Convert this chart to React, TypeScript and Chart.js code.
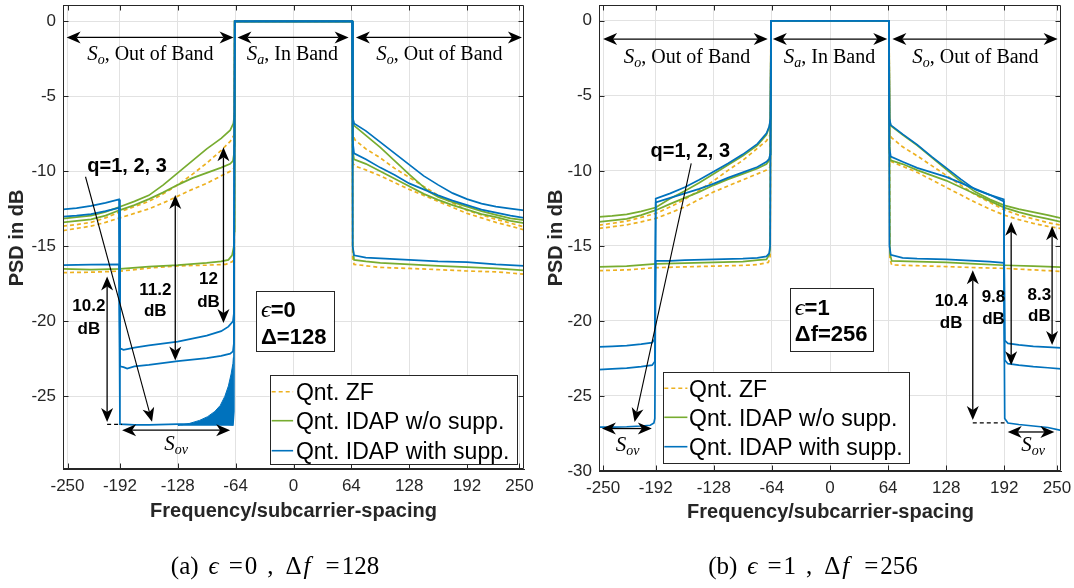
import React, { useEffect, useRef } from 'react';
import { Chart, registerables } from 'chart.js';

Chart.register(...registerables);

type Pt = [number, number];

// ---------- axis ticks ----------
const X_TICKS = [-250, -192, -128, -64, 0, 64, 128, 192, 250];
const Y_TICKS_A = [-25, -20, -15, -10, -5, 0];
const Y_TICKS_B = [-30, -25, -20, -15, -10, -5, 0];

// ---------- panel (a): eps = 0, Δf = 128 ----------
const A_ZF_1: Pt[] = [[-255,-13.65],[-240,-13.55],[-224,-13.4],[-208,-13.1],[-192,-12.7],[-176,-12.35],[-160,-12.0],[-144,-11.5],[-128,-10.9],[-112,-10.2],[-96,-9.45],[-80,-8.6],[-70,-8.0],[-66,-7.6],[-65,0],[65,0],[66,-7.6],[68,-7.9],[80,-8.5],[96,-9.1],[112,-9.8],[128,-10.4],[144,-11.0],[160,-11.6],[176,-12.1],[192,-12.6],[208,-12.9],[224,-13.2],[240,-13.45],[255,-13.7]];
const A_ZF_2: Pt[] = [[-255,-13.95],[-224,-13.65],[-208,-13.4],[-192,-13.1],[-176,-12.8],[-160,-12.5],[-144,-12.1],[-128,-11.65],[-112,-11.2],[-96,-10.8],[-80,-10.3],[-70,-10.0],[-66,-9.8],[-65,0],[65,0],[66,-9.5],[68,-9.65],[80,-9.9],[96,-10.3],[112,-10.75],[128,-11.2],[144,-11.6],[160,-12.0],[176,-12.4],[192,-12.8],[208,-13.1],[224,-13.4],[240,-13.65],[255,-13.9]];
const A_ZF_3: Pt[] = [[-255,-16.75],[-224,-16.72],[-192,-16.65],[-160,-16.45],[-128,-16.3],[-96,-16.25],[-75,-16.2],[-67,-16.0],[-65.5,-15.5],[-65,0],[65,0],[65.5,-15.8],[67,-16.2],[96,-16.4],[128,-16.47],[160,-16.55],[192,-16.64],[224,-16.7],[255,-16.85]];
const A_NS_1: Pt[] = [[-255,-13.15],[-240,-13.05],[-224,-12.95],[-208,-12.7],[-192,-12.36],[-176,-12.0],[-160,-11.6],[-144,-10.9],[-128,-10.1],[-112,-9.3],[-96,-8.5],[-80,-7.8],[-70,-7.25],[-66.5,-6.8],[-65.5,-6.3],[-65,0],[65,0],[65.5,-6.4],[67,-6.95],[80,-7.6],[96,-8.4],[112,-9.3],[128,-10.2],[150,-11.36],[160,-11.7],[176,-12.05],[192,-12.35],[208,-12.65],[224,-12.9],[240,-13.13],[255,-13.25]];
const A_NS_2: Pt[] = [[-255,-13.4],[-224,-13.2],[-208,-12.95],[-192,-12.58],[-176,-12.25],[-160,-11.85],[-144,-11.4],[-128,-10.9],[-112,-10.45],[-96,-10.1],[-80,-9.75],[-70,-9.5],[-67,-9.3],[-66,-8.9],[-65.5,-8.3],[-65,0],[65,0],[65.5,-8.6],[67,-9.2],[80,-9.5],[96,-10.0],[112,-10.5],[128,-11.0],[144,-11.5],[160,-11.9],[176,-12.25],[192,-12.55],[208,-12.85],[224,-13.05],[240,-13.3],[255,-13.45]];
const A_NS_3: Pt[] = [[-255,-16.5],[-224,-16.55],[-192,-16.5],[-160,-16.35],[-128,-16.25],[-96,-16.1],[-80,-16.0],[-72,-15.9],[-68,-15.6],[-66,-15.0],[-65.5,-14.0],[-65,0],[65,0],[65.5,-15.0],[67,-15.9],[80,-16.0],[96,-16.1],[128,-16.2],[160,-16.3],[192,-16.38],[224,-16.47],[255,-16.6]];
const A_WS_1: Pt[] = [[-255,-12.53],[-240,-12.45],[-224,-12.3],[-208,-12.1],[-193,-11.87],[-192,-21.8],[-188,-21.9],[-176,-21.75],[-160,-21.6],[-128,-21.35],[-112,-21.15],[-96,-20.95],[-80,-20.65],[-72,-20.35],[-67,-20.0],[-66,-19.5],[-65,0],[65,0],[65.5,-6.4],[67,-6.8],[80,-7.3],[96,-8.05],[112,-8.8],[128,-9.55],[144,-10.3],[160,-10.9],[176,-11.45],[192,-11.85],[208,-12.15],[224,-12.35],[240,-12.48],[255,-12.6]];
const A_WS_2: Pt[] = [[-255,-13.02],[-240,-12.95],[-224,-12.85],[-208,-12.65],[-193,-12.43],[-192,-23.0],[-188,-23.05],[-184,-23.15],[-176,-23.0],[-160,-22.9],[-128,-22.65],[-96,-22.45],[-80,-22.3],[-70,-22.15],[-67,-22.0],[-66,-21.5],[-65,0],[65,0],[65.5,-8.0],[67,-8.8],[80,-9.2],[96,-9.75],[112,-10.25],[128,-10.8],[144,-11.2],[160,-11.6],[176,-11.95],[192,-12.25],[208,-12.55],[224,-12.75],[240,-12.95],[255,-13.1]];
const A_WS_3: Pt[] = [[-255,-16.25],[-224,-16.22],[-193,-16.2],[-192,-26.85],[-176,-26.9],[-160,-26.9],[-128,-26.85],[-110,-26.85],[-96,-26.8],[-80,-26.8],[-67,-26.9],[-66,-26.0],[-65,0],[65,0],[65.5,-15.0],[67,-15.6],[80,-15.75],[96,-15.8],[128,-15.9],[160,-16.0],[192,-16.05],[224,-16.2],[255,-16.3]];
// upper edge of the dense oscillation of the q=3 suppressed curve
const A_WS_3_NOISE: Pt[] = [[-128,-26.95],[-115,-26.8],[-104,-26.6],[-95,-26.35],[-87,-26.0],[-81,-25.6],[-76,-25.0],[-72,-24.3],[-69,-23.5],[-67,-22.8],[-66.5,-22.4]];

// ---------- panel (b): eps = 1, Δf = 256 ----------
const B_ZF_1: Pt[] = [[-254.5,-13.62],[-240,-13.5],[-224,-13.35],[-208,-13.1],[-192,-12.84],[-176,-12.4],[-160,-11.9],[-144,-11.3],[-128,-10.65],[-112,-9.95],[-96,-9.3],[-80,-8.5],[-70,-8.0],[-66,-7.6],[-65,0],[65,0],[66,-7.6],[68,-7.8],[80,-8.4],[96,-9.0],[112,-9.65],[128,-10.3],[144,-10.95],[160,-11.6],[176,-12.1],[192,-12.6],[208,-12.95],[224,-13.2],[240,-13.45],[254.5,-13.62]];
const B_ZF_2: Pt[] = [[-254.5,-13.84],[-224,-13.6],[-208,-13.4],[-192,-13.17],[-176,-12.8],[-160,-12.4],[-144,-11.9],[-128,-11.4],[-112,-11.0],[-96,-10.6],[-80,-10.2],[-70,-9.95],[-66,-9.75],[-65,0],[65,0],[66,-9.3],[68,-9.4],[80,-9.7],[96,-10.1],[112,-10.6],[128,-11.1],[144,-11.6],[160,-12.1],[176,-12.55],[192,-12.95],[208,-13.25],[224,-13.5],[240,-13.7],[254.5,-13.85]];
const B_ZF_3: Pt[] = [[-254.5,-16.65],[-224,-16.6],[-192,-16.45],[-160,-16.4],[-128,-16.35],[-96,-16.3],[-80,-16.25],[-68,-16.1],[-66,-15.8],[-65,0],[65,0],[66,-15.9],[68,-16.27],[96,-16.32],[128,-16.38],[160,-16.45],[192,-16.5],[224,-16.6],[254.5,-16.7]];
const B_NS_1: Pt[] = [[-254.5,-13.07],[-240,-13.0],[-224,-12.9],[-208,-12.7],[-192,-12.44],[-176,-11.85],[-160,-11.35],[-144,-10.8],[-128,-10.2],[-112,-9.6],[-96,-9.0],[-80,-8.3],[-70,-7.6],[-67,-7.1],[-65.5,-6.6],[-65,0],[65,0],[65.5,-6.6],[67,-7.0],[80,-7.6],[96,-8.3],[112,-9.1],[128,-9.9],[144,-10.7],[160,-11.4],[176,-11.9],[192,-12.3],[208,-12.55],[224,-12.75],[240,-12.95],[254.5,-13.15]];
const B_NS_2: Pt[] = [[-254.5,-13.4],[-224,-13.2],[-208,-12.95],[-192,-12.62],[-176,-12.2],[-160,-11.8],[-144,-11.4],[-128,-10.95],[-112,-10.55],[-96,-10.2],[-80,-9.85],[-70,-9.55],[-67,-9.3],[-66,-8.9],[-65.5,-8.5],[-65,0],[65,0],[65.5,-8.8],[67,-9.3],[80,-9.55],[96,-9.95],[112,-10.3],[128,-10.65],[144,-11.1],[160,-11.55],[176,-12.0],[192,-12.45],[208,-12.75],[224,-13.0],[240,-13.2],[254.5,-13.4]];
const B_NS_3: Pt[] = [[-254.5,-16.4],[-224,-16.35],[-192,-16.2],[-160,-16.15],[-128,-16.1],[-96,-16.05],[-80,-15.95],[-70,-15.9],[-67,-15.6],[-66,-15.2],[-65,0],[65,0],[66,-15.5],[68,-16.0],[96,-16.05],[128,-16.1],[160,-16.2],[192,-16.29],[224,-16.35],[254.5,-16.42]];
const B_WS_1: Pt[] = [[-254.5,-21.73],[-240,-21.7],[-224,-21.65],[-208,-21.55],[-196,-21.45],[-193,-21.2],[-192,-11.85],[-176,-11.5],[-160,-11.1],[-144,-10.6],[-128,-10.05],[-112,-9.5],[-96,-8.9],[-80,-8.2],[-70,-7.5],[-67,-7.05],[-65.5,-6.5],[-65,0],[65,0],[65.5,-6.5],[67,-6.95],[80,-7.55],[96,-8.25],[112,-9.05],[128,-9.8],[144,-10.55],[160,-11.25],[176,-11.6],[191.5,-11.9],[192.5,-21.3],[196,-21.5],[208,-21.6],[224,-21.7],[240,-21.75],[254.5,-21.8]];
const B_WS_2: Pt[] = [[-254.5,-23.24],[-240,-23.2],[-224,-23.15],[-208,-23.05],[-196,-22.95],[-193,-22.7],[-192,-12.1],[-176,-11.8],[-160,-11.5],[-144,-11.2],[-128,-10.85],[-112,-10.45],[-96,-10.1],[-80,-9.75],[-70,-9.4],[-67,-9.2],[-66,-8.9],[-65.5,-8.4],[-65,0],[65,0],[65.5,-8.5],[67,-9.05],[80,-9.4],[96,-9.8],[112,-10.1],[128,-10.4],[144,-10.8],[160,-11.2],[176,-11.6],[191.5,-12.05],[192.5,-22.6],[196,-22.85],[208,-22.95],[224,-23.05],[240,-23.12],[254.5,-23.2]];
const B_WS_3: Pt[] = [[-254.5,-27.07],[-240,-27.07],[-224,-27.05],[-208,-27.0],[-198,-26.95],[-194,-26.8],[-193,-26.5],[-192,-16.0],[-176,-16.0],[-160,-15.95],[-128,-15.9],[-96,-15.85],[-80,-15.8],[-70,-15.7],[-67,-15.5],[-66,-15.0],[-65,0],[65,0],[65.5,-15.0],[67,-15.6],[80,-15.8],[96,-15.85],[128,-15.9],[160,-16.0],[176,-16.05],[191.5,-16.13],[192.5,-26.5],[196,-26.8],[208,-26.9],[224,-27.0],[240,-27.1],[254.5,-27.3]];

const LEGEND_LABELS = ['Qnt. ZF', 'Qnt. IDAP w/o supp.', 'Qnt. IDAP with supp.'];

// ---------- style ----------
const SANS = "'Liberation Sans', Arial, Helvetica, sans-serif";
const SERIF = "'Liberation Serif', 'Times New Roman', 'DejaVu Serif', serif";
const AX = '#262626';
const GRID = '#e2e2e2';
const C_ZF = '#EDB120';
const C_NS = '#77AC30';
const C_WS = '#0072BD';

type Piece = { s: string; f: string; dy?: number; gap?: number };

function richWidth(ctx: CanvasRenderingContext2D, pieces: Piece[]) {
  let w = 0;
  for (const p of pieces) {
    ctx.font = p.f;
    w += ctx.measureText(p.s).width + (p.gap || 0);
  }
  return w;
}
function drawRich(ctx: CanvasRenderingContext2D, pieces: Piece[], x: number, base: number, align: 'center' | 'left') {
  const w = richWidth(ctx, pieces);
  let cx = align === 'center' ? x - w / 2 : x;
  ctx.textAlign = 'left';
  ctx.textBaseline = 'alphabetic';
  for (const p of pieces) {
    cx += p.gap || 0;
    ctx.font = p.f;
    ctx.fillText(p.s, cx, base + (p.dy || 0));
    cx += ctx.measureText(p.s).width;
  }
}

function arrowHead(ctx: CanvasRenderingContext2D, tx: number, ty: number, ux: number, uy: number, L = 14, W = 6, back = 4) {
  const nx = -uy, ny = ux;
  ctx.beginPath();
  ctx.moveTo(tx, ty);
  ctx.lineTo(tx - ux * L + nx * W, ty - uy * L + ny * W);
  ctx.lineTo(tx - ux * (L - back), ty - uy * (L - back));
  ctx.lineTo(tx - ux * L - nx * W, ty - uy * L - ny * W);
  ctx.closePath();
  ctx.fill();
}
function arrow(ctx: CanvasRenderingContext2D, x1: number, y1: number, x2: number, y2: number, both: boolean, lw = 1.3) {
  const dx = x2 - x1, dy = y2 - y1;
  const len = Math.hypot(dx, dy);
  const ux = dx / len, uy = dy / len;
  const inset = 10;
  const sx = both ? x1 + ux * inset : x1, sy = both ? y1 + uy * inset : y1;
  ctx.lineWidth = lw;
  ctx.beginPath();
  ctx.moveTo(sx, sy);
  ctx.lineTo(x2 - ux * inset, y2 - uy * inset);
  ctx.stroke();
  arrowHead(ctx, x2, y2, ux, uy);
  if (both) arrowHead(ctx, x1, y1, -ux, -uy);
}

type Ann =
  | { t: 'arrow2'; x1: number; y1: number; x2: number; y2: number }
  | { t: 'arrow1'; x1: number; y1: number; x2: number; y2: number }
  | { t: 'dash'; x1: number; y1: number; x2: number; y2: number }
  | { t: 'bold'; x: number; y: number; s: string; size: number }
  | { t: 'set'; x: number; y: number; sub: string; rest: string };

type Panel = {
  series: { zf: Pt[][]; ns: Pt[][]; ws: Pt[][]; noise?: Pt[] };
  xMin: number; xMax: number; yMin: number; yMax: number; yTicks: number[];
  width: number; left: number; padRight: number; yAxisW: number; xAxisH: number;
  ann: Ann[];
  box: { x1: number; x2: number; y1: number; y2: number; tx: number; l1: [string, string]; l2: string; y1t: number; y2t: number };
  legend: { x1: number; y1: number; x2: number; y2: number; rows: number[]; s1: number; s2: number; tx: number };
  yTitle: [number, number]; xTitle: [number, number];
  caption: { x: number; y: number; tag: string; eps: string; df: string };
};

const PANEL_A: Panel = {
  series: { zf: [A_ZF_1, A_ZF_2, A_ZF_3], ns: [A_NS_1, A_NS_2, A_NS_3], ws: [A_WS_1, A_WS_2, A_WS_3], noise: A_WS_3_NOISE },
  xMin: -255, xMax: 255, yMin: -29.84, yMax: 1.09, yTicks: Y_TICKS_A,
  width: 540, left: 0, padRight: 16, yAxisW: 63, xAxisH: 119,
  ann: [
    { t: 'arrow2', x1: -251, y1: -1.07, x2: -66.3, y2: -1.07 },
    { t: 'arrow2', x1: -62, y1: -1.07, x2: 61, y2: -1.07 },
    { t: 'arrow2', x1: 69, y1: -1.07, x2: 252.7, y2: -1.07 },
    { t: 'set', x: -158.4, y: -2.1, sub: 'o', rest: ', Out of Band' },
    { t: 'set', x: -1.2, y: -2.1, sub: 'a', rest: ', In Band' },
    { t: 'set', x: 161.4, y: -2.1, sub: 'o', rest: ', Out of Band' },
    { t: 'bold', x: -184.1, y: -9.53, s: 'q=1, 2, 3', size: 20 },
    { t: 'arrow1', x1: -230.1, y1: -10.36, x2: -156.5, y2: -26.69 },
    { t: 'arrow2', x1: -206.2, y1: -17.0, x2: -206.2, y2: -26.7 },
    { t: 'dash', x1: -206.2, y1: -26.87, x2: -189.6, y2: -26.87 },
    { t: 'bold', x: -226.4, y: -18.9, s: '10.2', size: 17 },
    { t: 'bold', x: -226.4, y: -20.4, s: 'dB', size: 17 },
    { t: 'arrow2', x1: -130.8, y1: -11.58, x2: -130.8, y2: -22.6 },
    { t: 'bold', x: -152.9, y: -17.8, s: '11.2', size: 17 },
    { t: 'bold', x: -152.9, y: -19.2, s: 'dB', size: 17 },
    { t: 'arrow2', x1: -77.5, y1: -8.4, x2: -77.5, y2: -20.1 },
    { t: 'bold', x: -94, y: -17.1, s: '12', size: 17 },
    { t: 'bold', x: -94, y: -18.6, s: 'dB', size: 17 },
    { t: 'arrow2', x1: -189.6, y1: -27.25, x2: -70.1, y2: -27.25 },
    { t: 'set', x: -129.8, y: -28.1, sub: 'ov', rest: '' },
  ],
  box: { x1: -41.5, x2: 44.5, y1: -18.0, y2: -22.0, tx: -35.9, l1: ['ϵ', '=0'], l2: 'Δ=128', y1t: -19.2, y2t: -21.0 },
  legend: { x1: 269.7, y1: 375, x2: 516.6, y2: 464.3, rows: [391.7, 420.7, 450.7], s1: 271.7, s2: 293.1, tx: 295.9 },
  yTitle: [17, 238], xTitle: [293.5, 511.7],
  caption: { x: 275, y: 566, tag: '(a)', eps: '0', df: '128' },
};

const PANEL_B: Panel = {
  series: { zf: [B_ZF_1, B_ZF_2, B_ZF_3], ns: [B_NS_1, B_NS_2, B_NS_3], ws: [B_WS_1, B_WS_2, B_WS_3] },
  xMin: -254.5, xMax: 254.5, yMin: -30, yMax: 1.05, yTicks: Y_TICKS_B,
  width: 534, left: 540, padRight: 13, yAxisW: 59, xAxisH: 117,
  ann: [
    { t: 'arrow2', x1: -250, y1: -1.22, x2: -68.6, y2: -1.22 },
    { t: 'arrow2', x1: -63, y1: -1.22, x2: 63.1, y2: -1.22 },
    { t: 'arrow2', x1: 68.7, y1: -1.22, x2: 250.8, y2: -1.22 },
    { t: 'set', x: -157.6, y: -2.35, sub: 'o', rest: ', Out of Band' },
    { t: 'set', x: -0.5, y: -2.35, sub: 'a', rest: ', In Band' },
    { t: 'set', x: 160.2, y: -2.35, sub: 'o', rest: ', Out of Band' },
    { t: 'bold', x: -153.9, y: -8.6, s: 'q=1, 2, 3', size: 20 },
    { t: 'arrow1', x1: -152.9, y1: -9.51, x2: -215.3, y2: -26.73 },
    { t: 'arrow2', x1: -251.3, y1: -27.17, x2: -196.3, y2: -27.17 },
    { t: 'set', x: -223, y: -28.2, sub: 'ov', rest: '' },
    { t: 'arrow2', x1: 195.8, y1: -27.4, x2: 247.2, y2: -27.4 },
    { t: 'set', x: 223.9, y: -28.2, sub: 'ov', rest: '' },
    { t: 'arrow2', x1: 157.3, y1: -16.62, x2: 157.3, y2: -26.6 },
    { t: 'dash', x1: 157.3, y1: -26.8, x2: 192.2, y2: -26.8 },
    { t: 'bold', x: 133.5, y: -18.62, s: '10.4', size: 17 },
    { t: 'bold', x: 133.5, y: -20.07, s: 'dB', size: 17 },
    { t: 'arrow2', x1: 199.6, y1: -13.4, x2: 199.6, y2: -22.95 },
    { t: 'bold', x: 180.1, y: -18.3, s: '9.8', size: 17 },
    { t: 'bold', x: 180.1, y: -19.8, s: 'dB', size: 17 },
    { t: 'arrow2', x1: 244.7, y1: -13.7, x2: 244.7, y2: -21.6 },
    { t: 'bold', x: 230.7, y: -18.2, s: '8.3', size: 17 },
    { t: 'bold', x: 230.7, y: -19.6, s: 'dB', size: 17 },
  ],
  box: { x1: -44.6, x2: 46.9, y1: -17.8, y2: -22.0, tx: -38.7, l1: ['ϵ', '=1'], l2: 'Δf=256', y1t: -19.07, y2t: -20.8 },
  legend: { x1: 122.6, y1: 371.7, x2: 368.8, y2: 462.7, rows: [388.3, 417.3, 446.7], s1: 124.3, s2: 147.4, tx: 149.1 },
  yTitle: [16.7, 238], xTitle: [290.5, 512.3],
  caption: { x: 273, y: 566, tag: '(b)', eps: '1', df: '256' },
};

function lineDs(pts: Pt[], color: string, dashed: boolean, order: number) {
  return {
    data: pts.map(([x, y]) => ({ x, y })),
    borderColor: color,
    backgroundColor: color,
    borderWidth: 1.7,
    borderDash: dashed ? [4, 3] : [],
    pointRadius: 0,
    fill: false,
    tension: 0,
    order,
  };
}

function makePlugin(P: Panel) {
  return {
    id: 'decor',
    afterDraw(chart: any) {
      const ctx: CanvasRenderingContext2D = chart.ctx;
      const xs = chart.scales.x, ys = chart.scales.y;
      const X = (v: number) => xs.getPixelForValue(v);
      const Y = (v: number) => ys.getPixelForValue(v);
      const a = chart.chartArea;
      ctx.save();
      // box border + inward ticks
      ctx.strokeStyle = AX;
      ctx.lineWidth = 1;
      const L = Math.round(a.left) + 0.5, R = Math.round(a.right) - 0.5;
      const T = Math.round(a.top) + 0.5, B = Math.round(a.bottom) - 0.5;
      ctx.beginPath();
      ctx.moveTo(L, T); ctx.lineTo(R, T); ctx.lineTo(R, B); ctx.lineTo(L, B); ctx.closePath();
      for (const v of X_TICKS) {
        const px = Math.round(X(v)) + 0.5;
        ctx.moveTo(px, B); ctx.lineTo(px, B - 5);
        ctx.moveTo(px, T); ctx.lineTo(px, T + 5);
      }
      for (const v of P.yTicks) {
        const py = Math.round(Y(v)) + 0.5;
        ctx.moveTo(L, py); ctx.lineTo(L + 5, py);
        ctx.moveTo(R, py); ctx.lineTo(R - 5, py);
      }
      ctx.stroke();

      // annotations
      ctx.fillStyle = '#000';
      ctx.strokeStyle = '#000';
      for (const an of P.ann) {
        if (an.t === 'arrow2' || an.t === 'arrow1') {
          arrow(ctx, X(an.x1), Y(an.y1), X(an.x2), Y(an.y2), an.t === 'arrow2', an.t === 'arrow1' ? 1.1 : 1.3);
        } else if (an.t === 'dash') {
          ctx.save();
          ctx.setLineDash([4, 3]);
          ctx.lineWidth = 1.2;
          ctx.beginPath();
          ctx.moveTo(X(an.x1), Y(an.y1));
          ctx.lineTo(X(an.x2), Y(an.y2));
          ctx.stroke();
          ctx.restore();
        } else if (an.t === 'bold') {
          drawRich(ctx, [{ s: an.s, f: `bold ${an.size}px ${SANS}` }], X(an.x), Y(an.y) + an.size * 0.36, 'center');
        } else if (an.t === 'set') {
          const pieces: Piece[] = [
            { s: 'S', f: `italic 21px ${SERIF}` },
            { s: an.sub, f: `italic 14px ${SERIF}`, dy: 4 },
          ];
          if (an.rest) pieces.push({ s: an.rest, f: `20px ${SERIF}` });
          drawRich(ctx, pieces, X(an.x), Y(an.y) + 7, 'center');
        }
      }

      // parameter box
      const bx = P.box;
      const bx1 = X(bx.x1), bx2 = X(bx.x2), by1 = Y(bx.y1), by2 = Y(bx.y2);
      ctx.fillStyle = '#fff';
      ctx.fillRect(bx1, by1, bx2 - bx1, by2 - by1);
      ctx.strokeStyle = AX;
      ctx.lineWidth = 1;
      ctx.strokeRect(Math.round(bx1) + 0.5, Math.round(by1) + 0.5, Math.round(bx2 - bx1), Math.round(by2 - by1));
      ctx.fillStyle = '#000';
      drawRich(ctx, [
        { s: bx.l1[0], f: `italic 24px ${SERIF}` },
        { s: bx.l1[1], f: `bold 22px ${SANS}` },
      ], X(bx.tx), Y(bx.y1t) + 8, 'left');
      drawRich(ctx, [{ s: bx.l2, f: `bold 22px ${SANS}` }], X(bx.tx), Y(bx.y2t) + 8, 'left');

      // legend
      const lg = P.legend;
      ctx.fillStyle = '#fff';
      ctx.fillRect(lg.x1, lg.y1, lg.x2 - lg.x1, lg.y2 - lg.y1);
      ctx.strokeStyle = AX;
      ctx.lineWidth = 1;
      ctx.strokeRect(Math.round(lg.x1) + 0.5, Math.round(lg.y1) + 0.5, Math.round(lg.x2 - lg.x1), Math.round(lg.y2 - lg.y1));
      const cols = [C_ZF, C_NS, C_WS];
      LEGEND_LABELS.forEach((lab, i) => {
        const ry = lg.rows[i];
        ctx.save();
        ctx.strokeStyle = cols[i];
        ctx.lineWidth = 1.6;
        if (i === 0) ctx.setLineDash([4, 3]);
        ctx.beginPath();
        ctx.moveTo(lg.s1, ry);
        ctx.lineTo(lg.s2, ry);
        ctx.stroke();
        ctx.restore();
        ctx.fillStyle = '#000';
        drawRich(ctx, [{ s: lab, f: `23px ${SANS}` }], lg.tx, ry + 8.3, 'left');
      });

      // axis titles
      ctx.fillStyle = AX;
      ctx.font = `bold 20px ${SANS}`;
      ctx.textAlign = 'center';
      ctx.textBaseline = 'middle';
      ctx.fillText('Frequency/subcarrier-spacing', P.xTitle[0], P.xTitle[1]);
      ctx.save();
      ctx.translate(P.yTitle[0], P.yTitle[1]);
      ctx.rotate(-Math.PI / 2);
      ctx.fillText('PSD in dB', 0, 0);
      ctx.restore();

      // caption
      ctx.fillStyle = '#000';
      const cf = `25px ${SERIF}`, ci = `italic 25px ${SERIF}`;
      drawRich(ctx, [
        { s: P.caption.tag, f: cf },
        { s: 'ϵ', f: ci, gap: 10 },
        { s: '=', f: cf, gap: 10 },
        { s: P.caption.eps, f: cf, gap: 2 },
        { s: ',', f: cf, gap: 10 },
        { s: 'Δ', f: cf, gap: 12 },
        { s: 'f', f: ci, gap: 2 },
        { s: '=', f: cf, gap: 15 },
        { s: P.caption.df, f: cf, gap: 2 },
      ], P.caption.x, P.caption.y + 8, 'center');
      ctx.restore();
    },
  };
}

function PanelChart({ P }: { P: Panel }) {
  const ref = useRef<HTMLCanvasElement | null>(null);
  useEffect(() => {
    if (!ref.current) return;
    const datasets: any[] = [];
    P.series.ws.forEach((s) => datasets.push(lineDs(s, C_WS, false, 1)));
    if (P.series.noise) {
      datasets.push({
        ...lineDs(P.series.noise, C_WS, false, 2),
        borderWidth: 1,
        fill: { value: -26.95 },
        backgroundColor: C_WS,
      });
    }
    P.series.ns.forEach((s) => datasets.push(lineDs(s, C_NS, false, 3)));
    P.series.zf.forEach((s) => datasets.push(lineDs(s, C_ZF, true, 4)));

    const chart = new Chart(ref.current, {
      type: 'line',
      data: { datasets },
      options: {
        responsive: false,
        animation: false,
        devicePixelRatio: 1,
        events: [],
        layout: { padding: { left: 0, right: P.padRight, top: 5, bottom: 0 } },
        plugins: { legend: { display: false }, tooltip: { enabled: false } },
        scales: {
          x: {
            type: 'linear',
            min: P.xMin,
            max: P.xMax,
            afterBuildTicks: (s: any) => { s.ticks = X_TICKS.map((v) => ({ value: v })); },
            afterFit: (s: any) => {
              s.height = P.xAxisH;
              s.paddingLeft = 0; s.paddingRight = 0; s.paddingTop = 0; s.paddingBottom = 0;
            },
            grid: { color: GRID, drawTicks: false },
            border: { color: AX, width: 1 },
            ticks: {
              autoSkip: false, maxRotation: 0, minRotation: 0, padding: 7, color: AX,
              font: { family: SANS, size: 17 },
              callback: (v: any) => String(v),
            },
          },
          y: {
            type: 'linear',
            min: P.yMin,
            max: P.yMax,
            afterBuildTicks: (s: any) => { s.ticks = P.yTicks.map((v) => ({ value: v })); },
            afterFit: (s: any) => {
              s.width = P.yAxisW;
              s.paddingLeft = 0; s.paddingRight = 0; s.paddingTop = 0; s.paddingBottom = 0;
            },
            grid: { color: GRID, drawTicks: false },
            border: { color: AX, width: 1 },
            ticks: {
              padding: 7, color: AX,
              font: { family: SANS, size: 17 },
              callback: (v: any) => String(v),
            },
          },
        },
      } as any,
      plugins: [makePlugin(P)],
    });
    return () => chart.destroy();
  }, [P]);
  return (
    <canvas
      ref={ref}
      width={P.width}
      height={588}
      style={{ position: 'absolute', left: P.left, top: 0, width: P.width, height: 588 }}
    />
  );
}

export default function App() {
  return (
    <div style={{ position: 'absolute', left: 0, top: 0, width: 1074, height: 588, background: '#fff', overflow: 'hidden' }}>
      <PanelChart P={PANEL_A} />
      <PanelChart P={PANEL_B} />
    </div>
  );
}
